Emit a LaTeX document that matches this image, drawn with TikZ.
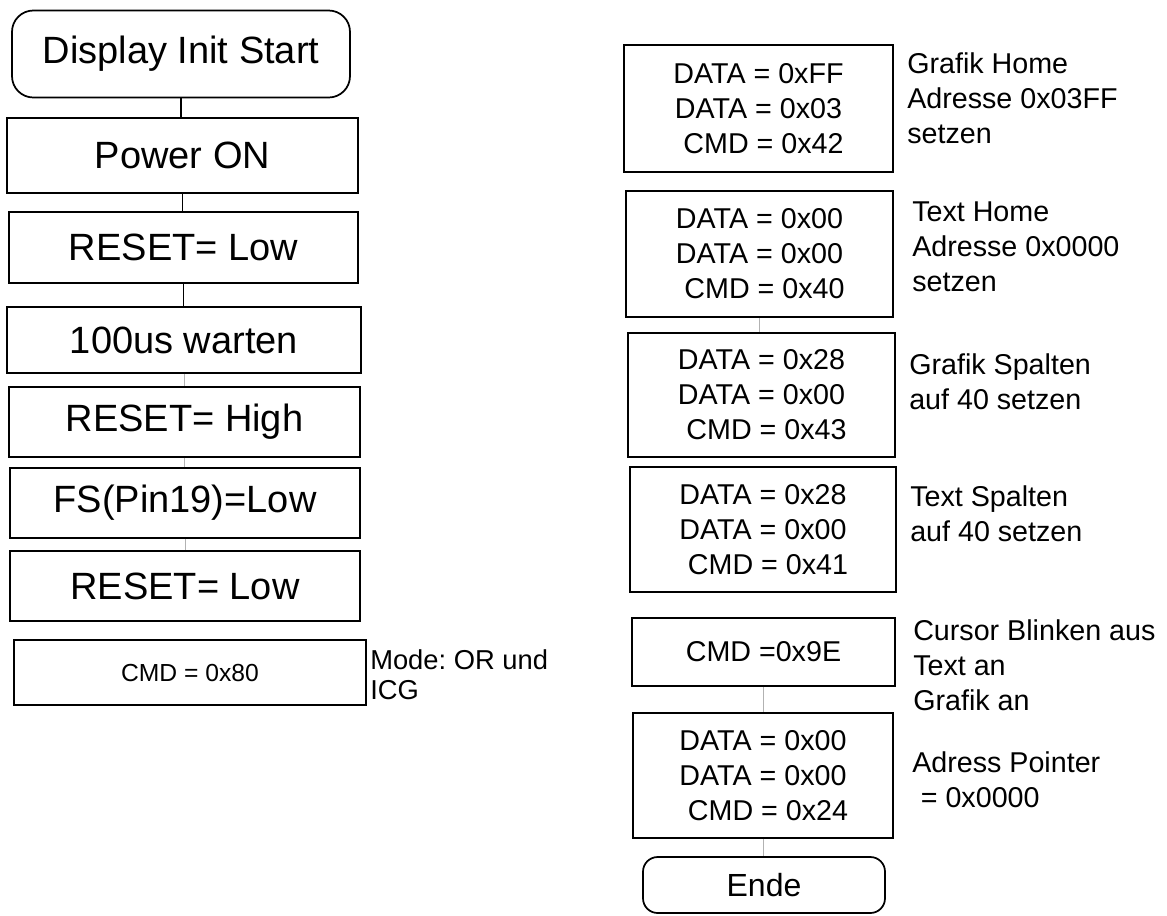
\documentclass[tikz,border=0pt]{standalone}
\usepackage{fontspec}
\setmainfont{Liberation Sans}
\frenchspacing
\begin{document}
\begin{tikzpicture}[x=0.75pt,y=-0.75pt,
  box/.style={draw=black,line width=1.3pt,inner sep=0pt,align=center},
  bigbox/.style={box,font=\fontsize{28.5}{34}\selectfont},
  regbox/.style={box,font=\fontsize{21.5}{26.25}\selectfont},
  termbox/.style={box,rounded corners=16pt},
  note/.style={anchor=west,align=left,inner sep=0pt,font=\fontsize{21.5}{26.25}\selectfont},
  smallnote/.style={anchor=west,align=left,inner sep=0pt,font=\fontsize{20.5}{22.5}\selectfont},
  link/.style={draw=black,line width=1pt},
  faint/.style={draw=black!30,line width=0.6pt}]
\useasboundingbox (0,0) rectangle (1167,915);
\fill[white] (0,0) rectangle (1167,915);
% left column
\node[bigbox,termbox,minimum width=253.5pt,minimum height=65.25pt] (start) at (181,54) {Display Init Start};
\node[bigbox,minimum width=263.25pt,minimum height=56.25pt] (power) at (182.5,155.5) {Power ON};
\node[bigbox,minimum width=261.75pt,minimum height=53.25pt] (reset1) at (183.5,247.5) {RESET= Low};
\node[bigbox,minimum width=265.5pt,minimum height=49.5pt] (wait) at (184,340) {100us warten};
\node[bigbox,minimum width=263.25pt,minimum height=52.5pt] (high) at (184.5,422) {RESET= High};
\node[bigbox,minimum width=262.5pt,minimum height=52.5pt] (fs) at (185,503) {FS(Pin19)=Low};
\node[bigbox,minimum width=262.5pt,minimum height=52.5pt] (reset2) at (185,586) {RESET= Low};
\node[box,font=\fontsize{18.5}{22.5}\selectfont,minimum width=264pt,minimum height=48.75pt] (cmd80) at (190,672.5) {CMD = 0x80};
\node[smallnote] (mode) at (370,675) {Mode: OR und\\ICG};
% connectors left
\draw[link] (start.south) -- (start.south |- power.north);
\draw[link] (power.south) -- (power.south |- reset1.north);
\draw[link] (reset1.south) -- (reset1.south |- wait.north);
\draw[faint] (wait.south) -- (wait.south |- high.north);
\draw[faint] (high.south) -- (high.south |- fs.north);
\draw[faint] (fs.south) -- (fs.south |- reset2.north);
% right column
\node[regbox,minimum width=201.75pt,minimum height=95.25pt] (b1) at (758.5,108.5) {DATA = 0xFF\\DATA = 0x03\\\hspace*{0.35em}CMD = 0x42};
\node[regbox,minimum width=200.25pt,minimum height=94.5pt] (b2) at (759.5,254) {DATA = 0x00\\DATA = 0x00\\\hspace*{0.35em}CMD = 0x40};
\node[regbox,minimum width=200.25pt,minimum height=93pt] (b3) at (761.5,395) {DATA = 0x28\\DATA = 0x00\\\hspace*{0.35em}CMD = 0x43};
\node[regbox,minimum width=199.5pt,minimum height=93.75pt] (b4) at (763,529.5) {DATA = 0x28\\DATA = 0x00\\\hspace*{0.35em}CMD = 0x41};
\node[regbox,minimum width=197.25pt,minimum height=51pt] (b5) at (763.5,652) {CMD =0x9E};
\node[regbox,minimum width=195pt,minimum height=93.75pt] (b6) at (763,775.5) {DATA = 0x00\\DATA = 0x00\\\hspace*{0.35em}CMD = 0x24};
\node[box,rounded corners=11pt,font=\fontsize{24}{28}\selectfont,minimum width=181.5pt,minimum height=42pt] (ende) at (764,885) {Ende};
% notes right
\node[note] (n1) at (907,98) {Grafik Home\\Adresse 0x03FF\\setzen};
\node[note] (n2) at (912,247) {Text Home\\Adresse 0x0000\\setzen};
\node[note] (n3) at (909,382) {Grafik Spalten\\auf 40 setzen};
\node[note] (n4) at (910,514) {Text Spalten\\auf 40 setzen};
\node[note] (n5) at (913,665) {Cursor Blinken aus\\Text an\\Grafik an};
\node[note] (n6) at (912,780) {Adress Pointer\\\hspace*{0.3em}= 0x0000};
% connectors right
\draw[faint] (b2.south) -- (b2.south |- b3.north);
\draw[faint] (b5.south) -- (b5.south |- b6.north);
\draw[faint] (b6.south) -- (b6.south |- ende.north);
\end{tikzpicture}
\end{document}
